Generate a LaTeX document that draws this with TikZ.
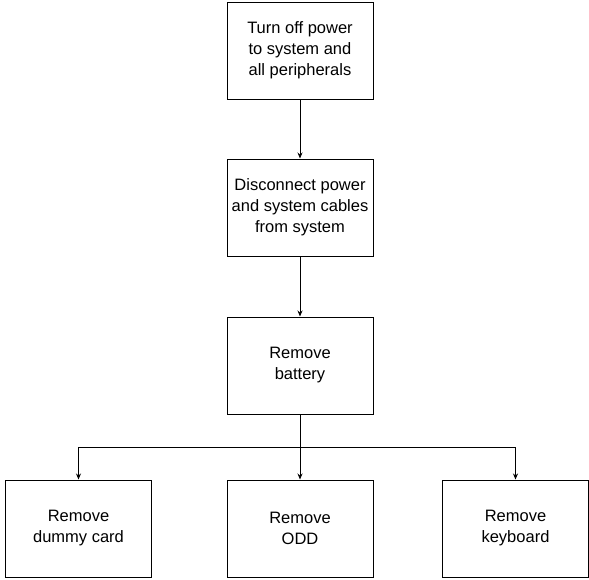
\documentclass[tikz,border=0pt]{standalone}
\usepackage{fontspec}
\setmainfont{Liberation Sans}
\usetikzlibrary{arrows.meta}
\begin{document}
\begin{tikzpicture}[x=1pt,y=-1pt,
  box/.style={draw,line width=1pt,minimum width=146pt,minimum height=97pt,inner sep=0pt,align=center,font=\fontsize{16.5}{21}\selectfont,anchor=north west},
  conn/.style={line width=0.8pt,-{Stealth[length=6pt,width=5pt]}}]
\useasboundingbox (0,0) rectangle (589,579);
\node[box] (a) at (226.5,1.5) {Turn off power\\to system and\\all peripherals};
\node[box] (b) at (226.5,158.5) {Disconnect power\\and system cables\\from system};
\node[box] (c) at (226.5,316.5) {Remove\\battery};
\node[box] (d) at (5,479.5) {Remove\\dummy card};
\node[box] (e) at (226.5,479.5) {Remove\\ODD};
\node[box] (f) at (442,479.5) {Remove\\keyboard};
\coordinate (j) at (299.5,447);
\draw[conn] (a) -- (b);
\draw[conn] (b) -- (c);
\draw[conn] (c) -- (e);
\draw[conn] (j) -| (d);
\draw[conn] (j) -| (f);
\end{tikzpicture}
\end{document}
